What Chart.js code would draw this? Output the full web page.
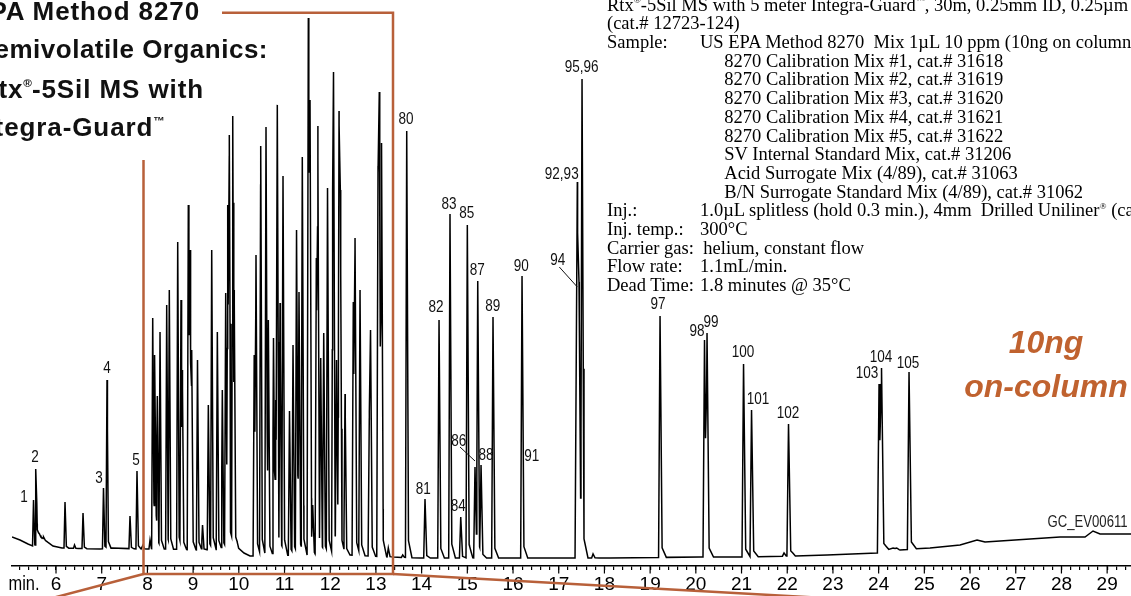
<!DOCTYPE html>
<html>
<head>
<meta charset="utf-8">
<script src="https://cdn.jsdelivr.net/npm/chart.js@4.4.1/dist/chart.umd.min.js"></script>
<style>
html,body{margin:0;padding:0;background:#fff;overflow:hidden;}
#wrap{position:relative;width:1131px;height:596px;overflow:hidden;background:#fff;}
#c{position:absolute;left:0;top:0;}
.t{position:absolute;white-space:nowrap;}
.title{font-family:'Liberation Sans',Arial,sans-serif;font-weight:bold;font-size:26px;line-height:26px;letter-spacing:0.9px;color:#111;text-align:right;}
.sup{position:relative;font-size:0.45em;top:-0.95em;letter-spacing:0;}
.info{position:absolute;left:607px;top:-4.3px;font-family:'Liberation Serif','Times New Roman',serif;font-size:18.5px;line-height:18.7px;color:#000;}
.row{position:relative;height:18.7px;white-space:nowrap;width:600px;}
.row span.c{position:absolute;top:0;}
.isup{position:relative;font-size:0.5em;top:-0.8em;}
.ng{position:absolute;left:955px;top:320px;width:182px;text-align:center;font-family:'Liberation Sans',Arial,sans-serif;font-weight:bold;font-style:italic;font-size:32px;line-height:44px;color:#c0622f;}
.gc{position:absolute;right:3px;top:513.5px;font-family:'Liberation Sans',Arial,sans-serif;font-size:16px;line-height:16px;color:#222;transform:scaleX(0.82);transform-origin:right center;}
</style>
</head>
<body>
<div id="wrap">
<canvas id="c" width="1131" height="596"></canvas>
<div class="t title" style="right:931px;top:-2px;">EPA Method 8270</div>
<div class="t title" style="right:863px;top:36px;letter-spacing:0.5px;">Semivolatile Organics:</div>
<div class="t title" style="right:927px;top:76px;">Rtx<span class="sup">®</span>-5Sil MS with</div>
<div class="t title" style="right:966px;top:114px;">Integra-Guard<span class="sup">™</span></div>
<div class="info">
  <div class="row"><span class="c" style="left:0">Rtx<span class="isup">®</span>-5Sil MS with 5 meter Integra-Guard<span class="isup">™</span>, 30m, 0.25mm ID, 0.25µm</span></div>
  <div class="row"><span class="c" style="left:0">(cat.# 12723-124)</span></div>
  <div class="row"><span class="c" style="left:0">Sample:</span><span class="c" style="left:93px">US EPA Method 8270&nbsp; Mix 1µL 10 ppm (10ng on column)</span></div>
  <div class="row"><span class="c" style="left:117.3px">8270 Calibration Mix #1, cat.# 31618</span></div>
  <div class="row"><span class="c" style="left:117.3px">8270 Calibration Mix #2, cat.# 31619</span></div>
  <div class="row"><span class="c" style="left:117.3px">8270 Calibration Mix #3, cat.# 31620</span></div>
  <div class="row"><span class="c" style="left:117.3px">8270 Calibration Mix #4, cat.# 31621</span></div>
  <div class="row"><span class="c" style="left:117.3px">8270 Calibration Mix #5, cat.# 31622</span></div>
  <div class="row"><span class="c" style="left:117.3px">SV Internal Standard Mix, cat.# 31206</span></div>
  <div class="row"><span class="c" style="left:117.3px">Acid Surrogate Mix (4/89), cat.# 31063</span></div>
  <div class="row"><span class="c" style="left:117.3px">B/N Surrogate Standard Mix (4/89), cat.# 31062</span></div>
  <div class="row"><span class="c" style="left:0">Inj.:</span><span class="c" style="left:93px">1.0µL splitless (hold 0.3 min.), 4mm&nbsp; Drilled Uniliner<span class="isup">®</span> (cat.#</span></div>
  <div class="row"><span class="c" style="left:0">Inj. temp.:</span><span class="c" style="left:93px">300°C</span></div>
  <div class="row"><span class="c" style="left:0">Carrier gas:</span><span class="c" style="left:96.3px">helium, constant flow</span></div>
  <div class="row"><span class="c" style="left:0">Flow rate:</span><span class="c" style="left:93px">1.1mL/min.</span></div>
  <div class="row"><span class="c" style="left:0">Dead Time:</span><span class="c" style="left:93px">1.8 minutes @ 35°C</span></div>
</div>
<div class="ng">10ng<br>on-column</div>
<div class="gc">GC_EV00611</div>
</div>
<script>
// ---------------- DATA ----------------
// x axis range in minutes
const X_MIN = 5.037;
const X_MAX = 29.522;
// axis tick labels (minutes)
const xTickValues = [6,7,8,9,10,11,12,13,14,15,16,17,18,19,20,21,22,23,24,25,26,27,28,29];
const xTickLabels = ['6','7','8','9','10','11','12','13','14','15','16','17','18','19','20','21','22','23','24','25','26','27','28','29'];
// detector baseline (retention time, response)
const baseTimes  = [5.037,5.212,5.387,5.550,5.580,5.650,5.781,5.934,6.131,6.963,7.225,7.838,7.991,8.385,9.151,9.808,9.961,10.114,10.245,11.339,12.433,13.308,13.965,15.716,17.357,18.123,20.092,20.967,22.127,22.871,23.965,24.315,24.468,24.753,25.125,25.781,26.153,26.328,26.656,27.313,27.969,28.516,28.691,28.844,29.522];
const baseLevels = [29,26,22,19,34,30,25,20,18,17,18,17,17,17,16,17,19,13,10,11,11,9,8,8,8,8,9,9,10,11,13,18,16,17,18,21,26,24,25,27,29,29,35,32,32];
// peak apexes (retention time, response at apex)
const peakTimes = [
 5.508,5.562,5.639,5.737,6.197,6.405,6.591,7.039,7.116,7.619,7.772,7.904,
 8.057,8.116,8.166,8.217,8.276,8.422,8.479,8.663,8.735,8.764,8.895,8.932,8.969,9.096,9.206,9.333,9.407,9.530,9.639,9.713,9.757,9.792,9.867,9.899,
 10.337,10.376,10.479,10.595,10.646,10.759,10.807,10.842,10.902,10.967,11.109,11.186,11.263,11.317,11.389,11.521,11.558,11.617,11.696,11.729,11.792,11.858,11.941,12.057,12.072,12.138,12.193,12.221,12.324,12.505,12.543,12.652,12.856,12.882,13.046,13.074,13.123,13.271,
 13.586,13.674,14.074,14.381,14.621,14.856,15.000,15.048,15.168,15.228,15.300,15.562,16.197,17.407,17.444,17.510,17.751,19.217,20.190,20.245,21.044,21.219,21.930,22.028,24.009,24.063,24.396,24.665];
const peakTops = [
 66,97,32,29,64,21,53,78,186,50,95,21,
 26,248,211,170,234,261,276,324,266,196,361,316,216,206,41,161,316,234,176,273,361,431,450,276,
 211,311,420,439,246,228,166,461,263,390,155,221,336,274,409,548,466,61,308,440,208,233,378,376,494,206,455,376,172,264,328,276,154,236,400,474,423,18,
 11,435,67,246,352,49,341,13,99,285,101,249,290,384,284,487,12,250,226,233,202,156,13,142,182,198,18,194];
// peak identification labels
const labelTexts  = ['1','2','3','4','5','80','81','82','83','84','85','86','87','88','89','90','91','92,93','94','95,96','97','98','99','100','101','102','103','104','105'];
const labelTimes  = [5.300,5.540,6.941,7.116,7.751,13.659,14.037,14.315,14.600,14.803,14.987,14.812,15.219,15.409,15.556,16.182,16.409,17.066,16.978,17.503,19.173,20.026,20.333,21.033,21.361,22.018,23.746,24.053,24.643];
const labelValues = [69,109,88,198,106,447,77,259,362,60,353,125,296,111,260,300,110,392,306,499,262,235,244,214,167,153,193,209,203];
// leader lines [t1, v1, t2, v2] for labels 86 and 94
const leaderLines = [[14.840,119,15.168,105],[17.013,299,17.407,279]];

// ---------------- build the trace ----------------
function baseAt(t){
  if (t <= baseTimes[0]) return baseLevels[0];
  for (let i = 1; i < baseTimes.length; i++){
    if (t <= baseTimes[i]){
      const f = (t - baseTimes[i-1]) / (baseTimes[i] - baseTimes[i-1]);
      return baseLevels[i-1] + f * (baseLevels[i] - baseLevels[i-1]);
    }
  }
  return baseLevels[baseLevels.length-1];
}
function geom(p){
  return {wl: 0.021 + 0.0008*(p-5), wr: 0.028 + 0.0012*(p-5), tl: 0.05 + 0.003*(p-5)};
}
const peakHeights = peakTimes.map((p,i) => peakTops[i] - baseAt(p));
function peakAt(i, t){
  const p = peakTimes[i], h = peakHeights[i], g = geom(p), tail = 0.04*h;
  if (t <= p - g.wl || t >= p + g.wr + g.tl) return 0;
  if (t <= p) return h * (t - (p - g.wl)) / g.wl;
  if (t <= p + g.wr) return h + (tail - h) * (t - p) / g.wr;
  return tail * (1 - (t - p - g.wr) / g.tl);
}
let bp = baseTimes.slice();
peakTimes.forEach(p => { const g = geom(p); bp.push(p - g.wl, p, p + g.wr, p + g.wr + g.tl); });
bp = bp.filter(t => t >= X_MIN && t <= X_MAX).sort((a,b) => a-b);
const trace = [];
bp.forEach(t => {
  if (trace.length && Math.abs(trace[trace.length-1].x - t) < 1e-9) return;
  let m = 0;
  for (let i = 0; i < peakTimes.length; i++) m = Math.max(m, peakAt(i, t));
  trace.push({x: t, y: baseAt(t) + m});
});

// ---------------- chart ----------------
const SANS = "'Liberation Sans',Arial,sans-serif";
const RUST = '#b8603a';
function narrowText(ctx, s, px, py, size){
  ctx.save();
  ctx.translate(px, py);
  ctx.scale(0.82, 1);
  ctx.font = size + 'px ' + SANS;
  ctx.fillText(s, 0, 0);
  ctx.restore();
}
const overlay = {
  id: 'overlay',
  afterDatasetsDraw(chart){
    const {ctx} = chart;
    const x = chart.scales.x, y = chart.scales.y;
    const bottom = chart.chartArea.bottom;
    ctx.save();
    // longer major tick marks
    ctx.strokeStyle = '#000'; ctx.lineWidth = 1.2;
    xTickValues.forEach(v => {
      const px = x.getPixelForValue(v);
      ctx.beginPath(); ctx.moveTo(px, bottom); ctx.lineTo(px, bottom + 7.5); ctx.stroke();
    });
    // axis unit label
    ctx.fillStyle = '#000';
    ctx.textAlign = 'center'; ctx.textBaseline = 'middle';
    narrowText(ctx, 'min.', x.getPixelForValue(5.300), bottom + 18, 20);
    // peak labels
    ctx.fillStyle = '#111';
    labelTexts.forEach((s,i) => {
      narrowText(ctx, s, x.getPixelForValue(labelTimes[i]), y.getPixelForValue(labelValues[i]), 16.5);
    });
    ctx.strokeStyle = '#111'; ctx.lineWidth = 1;
    leaderLines.forEach(l => {
      ctx.beginPath();
      ctx.moveTo(x.getPixelForValue(l[0]), y.getPixelForValue(l[1]));
      ctx.lineTo(x.getPixelForValue(l[2]), y.getPixelForValue(l[3]));
      ctx.stroke();
    });
    // expansion frame (decoration)
    ctx.strokeStyle = RUST; ctx.lineWidth = 2.5; ctx.lineCap = 'butt'; ctx.lineJoin = 'miter';
    ctx.beginPath();
    ctx.moveTo(222, 12.7); ctx.lineTo(393, 12.7); ctx.lineTo(393, 574); ctx.lineTo(143.5, 574); ctx.lineTo(143.5, 160);
    ctx.stroke();
    ctx.beginPath(); ctx.moveTo(143.5, 574); ctx.lineTo(40, 601.3); ctx.stroke();
    ctx.beginPath(); ctx.moveTo(393, 574); ctx.lineTo(900, 602.2); ctx.stroke();
    ctx.restore();
  }
};

new Chart(document.getElementById('c').getContext('2d'), {
  type: 'line',
  data: {datasets: [{data: trace, borderColor: '#000', borderWidth: 1.5, pointRadius: 0, tension: 0, fill: false}]},
  options: {
    responsive: false, animation: false, events: [],
    devicePixelRatio: 1,
    plugins: {legend: {display: false}, tooltip: {enabled: false}},
    layout: {padding: {left: 12, right: 0, top: 0, bottom: 0}},
    scales: {
      x: {
        type: 'linear', min: X_MIN, max: X_MAX, position: 'bottom',
        afterFit: s => { s.height = 30; },
        border: {display: true, color: '#000', width: 1.5},
        grid: {display: true, drawOnChartArea: false, drawTicks: true, tickLength: 4, color: '#000', lineWidth: 1.2},
        ticks: {
          stepSize: 0.2, includeBounds: false, autoSkip: false, maxRotation: 0, minRotation: 0,
          padding: 3, color: '#000', font: {family: SANS, size: 19},
          callback: v => {
            const i = xTickValues.findIndex(t => Math.abs(t - v) < 1e-6);
            return i >= 0 ? xTickLabels[i] : '';
          }
        }
      },
      y: {display: false, min: 0, max: 566}
    }
  },
  plugins: [overlay]
});
</script>
</body>
</html>
